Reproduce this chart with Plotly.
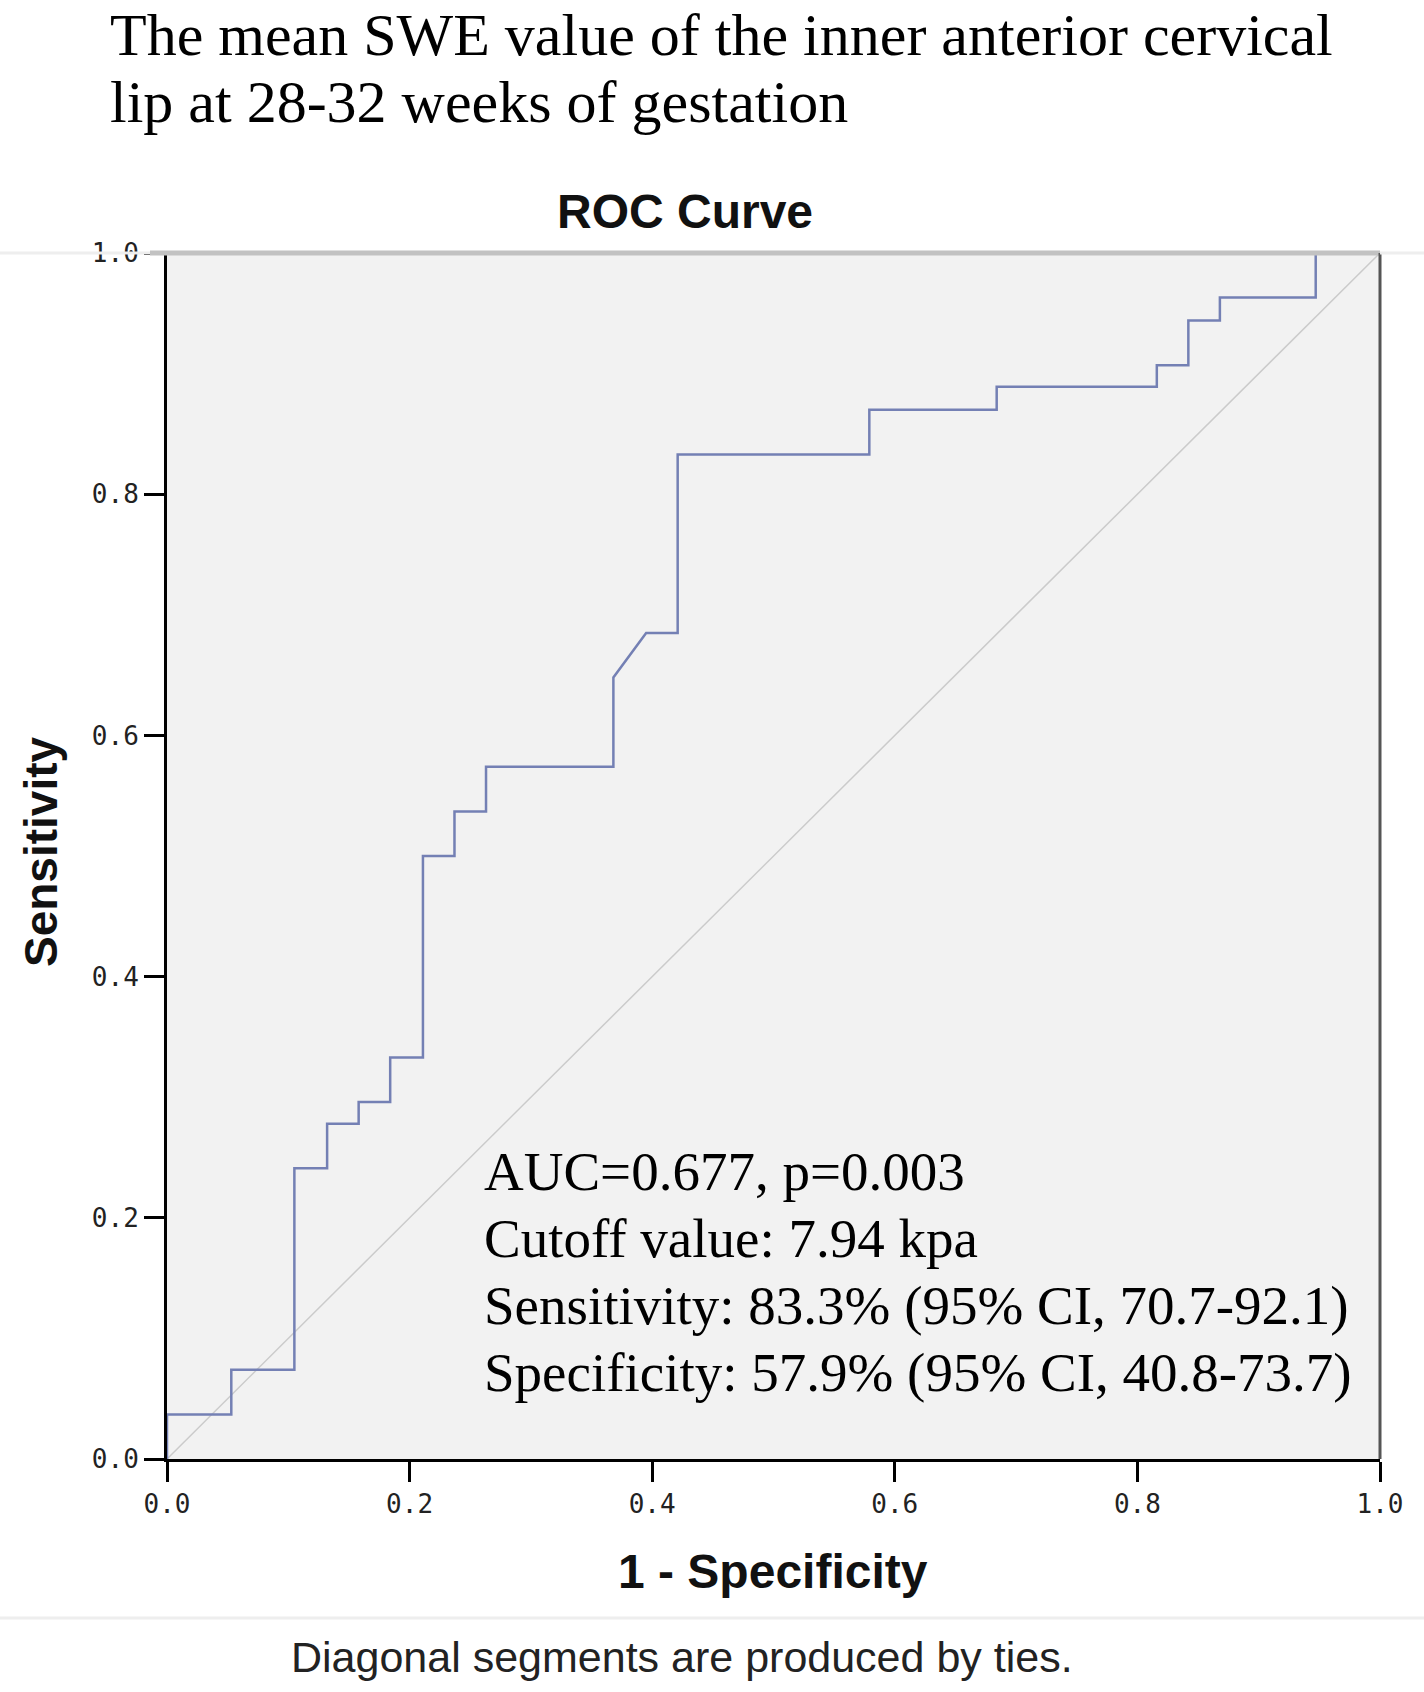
import plotly.graph_objects as go

# ROC curve (1 - specificity, sensitivity)
fpr = [0.0, 0.0, 0.053, 0.053, 0.105, 0.105, 0.132, 0.132, 0.158, 0.158,
       0.184, 0.184, 0.211, 0.211, 0.237, 0.237, 0.263, 0.263, 0.368, 0.368,
       0.395, 0.421, 0.421, 0.579, 0.579, 0.684, 0.684, 0.816, 0.816, 0.842,
       0.842, 0.868, 0.868, 0.947, 0.947, 1.0]
tpr = [0.0, 0.037, 0.037, 0.074, 0.074, 0.241, 0.241, 0.278, 0.278, 0.296,
       0.296, 0.333, 0.333, 0.5, 0.5, 0.537, 0.537, 0.574, 0.574, 0.648,
       0.685, 0.685, 0.833, 0.833, 0.870, 0.870, 0.889, 0.889, 0.907, 0.907,
       0.944, 0.944, 0.963, 0.963, 1.0, 1.0]
ref_x = [0.0, 1.0]
ref_y = [0.0, 1.0]
tick_vals = [0.0, 0.2, 0.4, 0.6, 0.8, 1.0]
tick_text = ["0.0", "0.2", "0.4", "0.6", "0.8", "1.0"]

heading_lines = ["The mean SWE value of the inner anterior cervical",
                 "lip at 28-32 weeks of gestation"]
stats_lines = ["AUC=0.677, p=0.003",
               "Cutoff value: 7.94 kpa",
               "Sensitivity: 83.3% (95% CI, 70.7-92.1)",
               "Specificity: 57.9% (95% CI, 40.8-73.7)"]

W, H = 1424, 1692
L, R, T, B = 167, 44, 253, 233

def px(x):
    return (x - L) / (W - L - R)

def py(y):
    return (H - B - y) / (H - T - B)

SANS = "Liberation Sans Narrow, Liberation Sans"

fig = go.Figure()
fig.add_trace(go.Scatter(x=ref_x, y=ref_y, mode="lines",
                         line=dict(color="#cbcbcb", width=1.5),
                         hoverinfo="skip", showlegend=False))
fig.add_trace(go.Scatter(x=fpr, y=tpr, mode="lines",
                         line=dict(color="#7480b4", width=2.5),
                         showlegend=False))

axis_common = dict(range=[0, 1], tickvals=tick_vals, ticktext=tick_text,
                   ticks="outside", ticklen=20, tickwidth=3, tickcolor="black",
                   showline=True, linecolor="black", linewidth=3,
                   showgrid=False, zeroline=False,
                   tickfont=dict(family="DejaVu Sans Mono", size=26, color="#222"))
fig.update_xaxes(**axis_common)
fig.update_yaxes(**axis_common)

# top border grey and right border dark grey, plus faint separators
fig.add_shape(type="line", xref="paper", yref="paper", x0=px(150), x1=1.0, y0=1.0, y1=1.0,
              line=dict(color="#c2c2c2", width=5))
fig.add_shape(type="line", xref="paper", yref="paper", x0=1.0, x1=1.0, y0=0.0, y1=1.0,
              line=dict(color="#555555", width=3))
fig.add_shape(type="line", xref="paper", yref="paper", x0=px(0), x1=px(150), y0=1.0, y1=1.0,
              line=dict(color="#eeeeee", width=3))
fig.add_shape(type="line", xref="paper", yref="paper", x0=1.0, x1=px(1424), y0=1.0, y1=1.0,
              line=dict(color="#eeeeee", width=3))
fig.add_shape(type="line", xref="paper", yref="paper", x0=px(0), x1=px(1424),
              y0=py(1618), y1=py(1618), line=dict(color="#eeeeee", width=3))

# main heading, one annotation per line
for line, yc in zip(heading_lines, [35, 102]):
    fig.add_annotation(xref="paper", yref="paper", x=px(108), xanchor="left",
                       y=py(yc), yanchor="middle", showarrow=False,
                       text=line, font=dict(family="Liberation Serif", size=60, color="black"))

# chart title
fig.add_annotation(xref="paper", yref="paper", x=px(685), xanchor="center",
                   y=py(211), yanchor="middle", showarrow=False,
                   text="<b>ROC Curve</b>", font=dict(family=SANS, size=48, color="#111"))

# axis titles
fig.add_annotation(xref="paper", yref="paper", x=px(773), xanchor="center",
                   y=py(1571), yanchor="middle", showarrow=False,
                   text="<b>1 - Specificity</b>", font=dict(family=SANS, size=48, color="#111"))
fig.add_annotation(xref="paper", yref="paper", x=px(41), xanchor="center",
                   y=py(852), yanchor="middle", showarrow=False, textangle=-90,
                   text="<b>Sensitivity</b>", font=dict(family=SANS, size=46, color="#111"))

# statistics text
for line, yc in zip(stats_lines, [1171, 1238, 1305, 1372]):
    fig.add_annotation(xref="paper", yref="paper", x=px(482), xanchor="left",
                       y=py(yc), yanchor="middle", showarrow=False,
                       text=line, font=dict(family="Liberation Serif", size=55, color="black"))

# footnote
fig.add_annotation(xref="paper", yref="paper", x=px(682), xanchor="center",
                   y=py(1657), yanchor="middle", showarrow=False,
                   text="Diagonal segments are produced by ties.",
                   font=dict(family=SANS, size=43, color="#222"))

fig.update_layout(width=W, height=H, margin=dict(l=L, r=R, t=T, b=B),
                  paper_bgcolor="white", plot_bgcolor="#f2f2f2")

# drop the default 8px page margin so the figure fills the window exactly
fig.write_html("out.html", config={"displayModeBar": False},
               post_script="document.body.style.margin='0px';")
